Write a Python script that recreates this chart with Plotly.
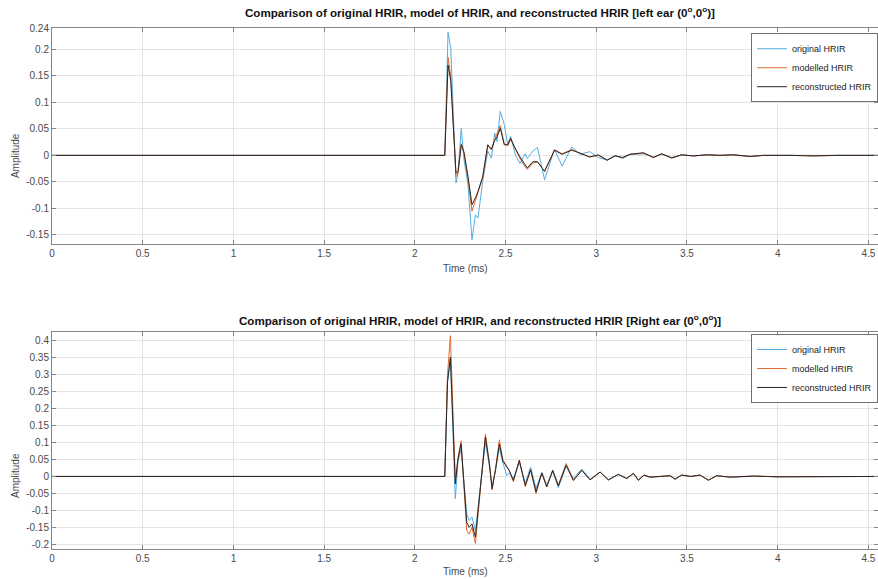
import plotly.graph_objects as go

# ---------------- data ----------------
# Left ear panel
t_left = [0.0, 2.165, 2.183, 2.198, 2.227, 2.238, 2.256, 2.271, 2.293, 2.315, 2.334, 2.348,
          2.374, 2.402, 2.422, 2.440, 2.453, 2.471, 2.493, 2.512, 2.528, 2.555, 2.580, 2.608,
          2.620, 2.650, 2.676, 2.715, 2.770, 2.812, 2.865, 2.911, 2.964, 3.012, 3.060, 3.104,
          3.145, 3.186, 3.260, 3.315, 3.361, 3.416, 3.471, 3.535, 3.609, 3.682, 3.756, 3.848,
          3.921, 4.068, 4.200, 4.330, 4.560]
orig_left = [0.0, 0.0, 0.232, 0.202, -0.052, -0.033, 0.051, -0.008, -0.055, -0.159, -0.112, -0.118,
             -0.049, 0.008, -0.005, 0.042, 0.026, 0.083, 0.058, 0.020, 0.036, 0.000, -0.015, 0.003,
             -0.006, 0.008, 0.015, -0.046, 0.011, -0.020, 0.016, 0.002, 0.007, -0.004, -0.009, 0.000,
             -0.006, 0.002, 0.003, -0.003, 0.002, -0.004, 0.001, -0.001, 0.001, 0.000, 0.001, -0.002,
             0.000, 0.000, -0.001, 0.000, 0.000]
model_left = [0.0, 0.0, 0.185, 0.150, -0.040, -0.035, 0.022, 0.004, -0.045, -0.105, -0.085, -0.070,
              -0.042, 0.018, 0.010, 0.030, 0.040, 0.056, 0.022, 0.018, 0.030, 0.010, -0.006, -0.022,
              -0.026, -0.015, -0.012, -0.030, 0.010, 0.003, 0.011, 0.004, -0.003, 0.000, -0.009, -0.001,
              -0.004, 0.002, 0.004, -0.004, 0.003, -0.005, 0.001, -0.001, 0.001, 0.000, 0.001, -0.002,
              0.000, 0.000, -0.001, 0.000, 0.000]
recon_left = [0.0, 0.0, 0.170, 0.141, -0.034, -0.030, 0.020, 0.006, -0.040, -0.093, -0.080, -0.068,
              -0.040, 0.020, 0.012, 0.028, 0.035, 0.051, 0.020, 0.020, 0.032, 0.012, -0.003, -0.018,
              -0.024, -0.012, -0.012, -0.030, 0.010, 0.002, 0.010, 0.004, -0.003, 0.001, -0.009, -0.001,
              -0.004, 0.002, 0.005, -0.004, 0.003, -0.005, 0.001, -0.001, 0.001, 0.000, 0.001, -0.002,
              0.000, 0.000, -0.001, 0.000, 0.000]

# Right ear panel
t_right = [0.0, 2.165, 2.180, 2.196, 2.223, 2.238, 2.255, 2.286, 2.300, 2.315, 2.334, 2.389,
           2.411, 2.426, 2.445, 2.466, 2.485, 2.507, 2.520, 2.543, 2.576, 2.609, 2.638, 2.668,
           2.700, 2.727, 2.760, 2.791, 2.834, 2.874, 2.920, 2.966, 3.021, 3.067, 3.122, 3.168,
           3.205, 3.232, 3.263, 3.296, 3.350, 3.407, 3.434, 3.471, 3.520, 3.572, 3.618, 3.664,
           3.738, 3.866, 4.000, 4.200, 4.560]
orig_right = [0.0, 0.0, 0.280, 0.345, -0.066, 0.045, 0.080, -0.110, -0.130, -0.120, -0.160, 0.100,
              0.030, -0.030, 0.020, 0.085, 0.040, 0.003, 0.010, -0.005, 0.040, -0.020, 0.028, -0.035,
              0.012, -0.025, 0.015, -0.033, 0.030, -0.005, 0.022, -0.008, 0.013, -0.010, 0.006, -0.006,
              0.009, -0.011, 0.004, -0.002, 0.000, 0.002, -0.008, 0.004, 0.000, 0.004, -0.011, 0.002,
              -0.002, 0.001, -0.001, 0.000, 0.000]
model_right = [0.0, 0.0, 0.300, 0.415, -0.010, 0.055, 0.105, -0.160, -0.170, -0.150, -0.198, 0.125,
               0.040, -0.040, 0.025, 0.108, 0.050, 0.030, 0.018, -0.015, 0.048, -0.030, 0.020, -0.051,
               0.010, -0.030, 0.018, -0.025, 0.038, -0.010, 0.018, -0.010, 0.013, -0.010, 0.006, -0.006,
               0.009, -0.011, 0.004, -0.002, 0.000, 0.002, -0.008, 0.004, 0.000, 0.004, -0.011, 0.002,
               -0.002, 0.001, -0.001, 0.000, 0.000]
recon_right = [0.0, 0.0, 0.278, 0.352, -0.022, 0.052, 0.096, -0.135, -0.150, -0.140, -0.179, 0.116,
               0.037, -0.036, 0.020, 0.096, 0.045, 0.028, 0.018, -0.012, 0.047, -0.027, 0.020, -0.045,
               0.010, -0.031, 0.018, -0.028, 0.033, -0.012, 0.018, -0.010, 0.013, -0.010, 0.006, -0.006,
               0.009, -0.011, 0.004, -0.002, 0.000, 0.002, -0.008, 0.004, 0.000, 0.004, -0.011, 0.002,
               -0.002, 0.001, -0.001, 0.000, 0.000]

x_ticks = [0, 0.5, 1, 1.5, 2, 2.5, 3, 3.5, 4, 4.5]
y_ticks_left = [-0.15, -0.1, -0.05, 0, 0.05, 0.1, 0.15, 0.2, 0.24]
y_ticks_right = [-0.2, -0.15, -0.1, -0.05, 0, 0.05, 0.1, 0.15, 0.2, 0.25, 0.3, 0.35, 0.4]
series_names = ["original HRIR", "modelled HRIR", "reconstructed HRIR"]
title_left = "Comparison of original HRIR, model of HRIR, and reconstructed HRIR [left ear (0<sup>o</sup>,0<sup>o</sup>)]"
title_right = "Comparison of original HRIR, model of HRIR, and reconstructed HRIR [Right ear (0<sup>o</sup>,0<sup>o</sup>)]"

# ---------------- styling ----------------
colors = ["#55aee0", "#e06a30", "#262626"]
FONT = "Liberation Sans, Arial, Helvetica, sans-serif"
TICK_COLOR = "#4a4a4a"
LINE_COLOR = "#858585"
GRID_COLOR = "#e4e4e4"

fig = go.Figure()

for vals, name, col in zip([orig_left, model_left, recon_left], series_names, colors):
    fig.add_trace(go.Scatter(x=t_left, y=vals, mode="lines", name=name,
                             line=dict(color=col, width=1), xaxis="x", yaxis="y",
                             legend="legend"))
for vals, name, col in zip([orig_right, model_right, recon_right], series_names, colors):
    fig.add_trace(go.Scatter(x=t_right, y=vals, mode="lines", name=name,
                             line=dict(color=col, width=1), xaxis="x2", yaxis="y2",
                             legend="legend2"))

axis_common = dict(showline=True, linecolor=LINE_COLOR, linewidth=1, mirror="ticks",
                   ticks="inside", ticklen=4, tickcolor=LINE_COLOR,
                   showgrid=True, gridcolor=GRID_COLOR, gridwidth=1, zeroline=False,
                   tickfont=dict(family=FONT, size=10, color=TICK_COLOR))

fig.update_layout(
    width=878, height=579,
    margin=dict(l=52, r=0, t=28, b=30),
    paper_bgcolor="white", plot_bgcolor="white",
    font=dict(family=FONT, size=10, color="#222222"),
    xaxis=dict(domain=[0, 1], anchor="y", range=[0, 4.553], tickvals=x_ticks,
               ticktext=[f"{v:g}" for v in x_ticks], ticklabeloverflow="allow", **axis_common),
    yaxis=dict(domain=[0.5854, 1], anchor="x", range=[-0.167, 0.24], tickvals=y_ticks_left,
               ticktext=[f"{v:g}" for v in y_ticks_left], **axis_common),
    xaxis2=dict(domain=[0, 1], anchor="y2", range=[0, 4.553], tickvals=x_ticks,
                ticktext=[f"{v:g}" for v in x_ticks], ticklabeloverflow="allow", **axis_common),
    yaxis2=dict(domain=[0, 0.4165], anchor="x2", range=[-0.214, 0.426], tickvals=y_ticks_right,
                ticktext=[f"{v:g}" for v in y_ticks_right], **axis_common),
    legend=dict(x=1, xanchor="right", y=0.990, yanchor="top", bgcolor="white",
                bordercolor="#707070", borderwidth=1, itemwidth=30,
                font=dict(family=FONT, size=9, color="#222222"), tracegroupgap=0),
    legend2=dict(x=1, xanchor="right", y=0.4127, yanchor="top", bgcolor="white",
                 bordercolor="#707070", borderwidth=1, itemwidth=30,
                 font=dict(family=FONT, size=9, color="#222222"), tracegroupgap=0),
    showlegend=True,
)

ann = [
    dict(text="<b>" + title_left + "</b>", x=0.518, y=1.0307, xref="paper", yref="paper",
         showarrow=False, xanchor="center", yanchor="middle",
         font=dict(family=FONT, size=11.6, color="#111111")),
    dict(text="<b>" + title_right + "</b>", x=0.518, y=0.4395, xref="paper", yref="paper",
         showarrow=False, xanchor="center", yanchor="middle",
         font=dict(family=FONT, size=11.6, color="#111111")),
    dict(text="Time (ms)", x=0.5, y=0.539, xref="paper", yref="paper", showarrow=False,
         xanchor="center", yanchor="middle", font=dict(family=FONT, size=10, color=TICK_COLOR)),
    dict(text="Time (ms)", x=0.5, y=-0.044, xref="paper", yref="paper", showarrow=False,
         xanchor="center", yanchor="middle", font=dict(family=FONT, size=10, color=TICK_COLOR)),
    dict(text="Amplitude", x=-0.0448, y=0.756, xref="paper", yref="paper", showarrow=False,
         textangle=-90, xanchor="center", yanchor="middle",
         font=dict(family=FONT, size=10, color=TICK_COLOR)),
    dict(text="Amplitude", x=-0.0448, y=0.142, xref="paper", yref="paper", showarrow=False,
         textangle=-90, xanchor="center", yanchor="middle",
         font=dict(family=FONT, size=10, color=TICK_COLOR)),
]
fig.update_layout(annotations=ann)

fig.write_html("out.html",
               config={"displayModeBar": False},
               post_script="document.body.style.margin='0px';document.body.style.overflow='hidden';")
